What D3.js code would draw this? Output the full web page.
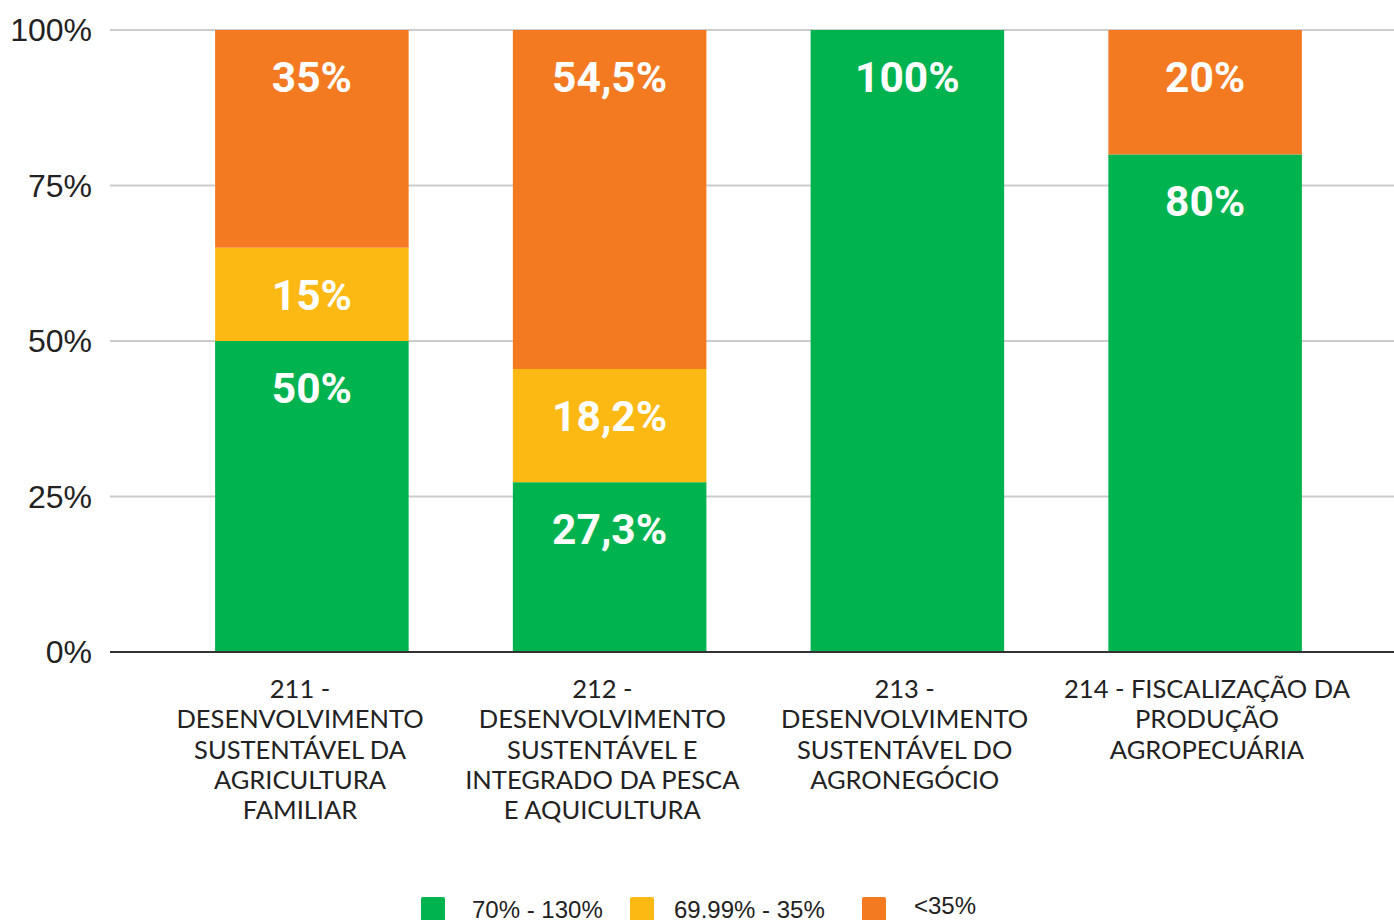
<!DOCTYPE html>
<html>
<head>
<meta charset="utf-8">
<script src="https://cdn.jsdelivr.net/npm/d3@7"></script>
<style>
  body { margin: 0; background: #fff; }
  svg { display: block; }
</style>
</head>
<body>
<div id="chart"></div>
<script>
// categories (wrapped as in the original)
const categories = ["211", "212", "213", "214"];
const categoryLines = [
  ["211 -", "DESENVOLVIMENTO", "SUSTENTÁVEL DA", "AGRICULTURA", "FAMILIAR"],
  ["212 -", "DESENVOLVIMENTO", "SUSTENTÁVEL E", "INTEGRADO DA PESCA", "E AQUICULTURA"],
  ["213 -", "DESENVOLVIMENTO", "SUSTENTÁVEL DO", "AGRONEGÓCIO"],
  ["214 - FISCALIZAÇÃO DA", "PRODUÇÃO", "AGROPECUÁRIA"]
];
const legendLabels = ["70% - 130%", "69.99% - 35%", "<35%"];
const greenValues = [50, 27.3, 100, 80];
const yellowValues = [15, 18.2, 0, 0];
const orangeValues = [35, 54.5, 0, 20];
const yTicks = [0, 25, 50, 75, 100];

const colors = ["#00B34F", "#FDB913", "#F47A22"];

const W = 1394, H = 920;
const plotTop = 30, plotBottom = 652;

const rows = categories.map((c, i) => ({
  cat: c, g: greenValues[i], y: yellowValues[i], o: orangeValues[i]
}));
const stack = d3.stack().keys(["g", "y", "o"])(rows);

const x = d3.scaleBand().domain(categories).range([163, 1354]).paddingInner(0.35).paddingOuter(0.175);
// the wrapped category labels sit on a slightly wider spacing than the bars
const xLabel = d3.scalePoint().domain(categories).range([300, 1207]);
const yScale = d3.scaleLinear().domain([0, 100]).range([plotBottom, plotTop]);

const svg = d3.select("#chart").append("svg").attr("width", W).attr("height", H);

// grid
svg.append("g").selectAll("line").data(yTicks.filter(d => d > 0)).enter().append("line")
  .attr("x1", 110).attr("x2", W)
  .attr("y1", d => yScale(d)).attr("y2", d => yScale(d))
  .attr("stroke", "#cccccc").attr("stroke-width", 2);

// y labels
svg.append("g").selectAll("text").data(yTicks).enter().append("text")
  .attr("x", 92).attr("y", d => yScale(d))
  .attr("dy", "0.35em").attr("text-anchor", "end")
  .attr("font-family", "Liberation Sans, Arial, sans-serif")
  .attr("font-size", 32).attr("fill", "#222")
  .text(d => d + "%");

// bars
const layers = svg.append("g").selectAll("g").data(stack).enter().append("g")
  .attr("fill", (d, i) => colors[i]);
layers.selectAll("rect").data(d => d).enter().append("rect")
  .attr("x", d => x(d.data.cat))
  .attr("width", x.bandwidth())
  .attr("y", d => yScale(d[1]))
  .attr("height", d => yScale(d[0]) - yScale(d[1]));

// value labels
const fmt = v => String(+v.toFixed(1)).replace(".", ",") + "%";
stack.forEach(layer => {
  svg.append("g").selectAll("text").data(layer.filter(d => d[1] - d[0] > 0)).enter().append("text")
    .attr("x", d => x(d.data.cat) + x.bandwidth() / 2)
    .attr("y", d => yScale(d[1]) + 47)
    .attr("dy", "0.35em")
    .attr("text-anchor", "middle")
    .attr("font-family", "Roboto, sans-serif")
    .attr("font-weight", "bold")
    .attr("font-size", 42.5)
    .attr("fill", "#fff")
    .text(d => fmt(d[1] - d[0]));
});

// baseline
svg.append("line").attr("x1", 110).attr("x2", W)
  .attr("y1", yScale(0)).attr("y2", yScale(0))
  .attr("stroke", "#333").attr("stroke-width", 2);

// category labels
const xAxis = svg.append("g");
categories.forEach((c, i) => {
  const cx = xLabel(c);
  const t = xAxis.append("text")
    .attr("x", cx)
    .attr("y", 698)
    .attr("text-anchor", "middle")
    .attr("font-family", "Lato, sans-serif")
    .attr("font-size", 25.5)
    .attr("fill", "#222");
  categoryLines[i].forEach((line, k) => {
    t.append("tspan").attr("x", cx).attr("dy", k === 0 ? 0 : 30.3).text(line);
  });
});

// legend
const legendX = [421, 630, 862];
const legend = svg.append("g");
legendLabels.forEach((l, i) => {
  legend.append("rect").attr("x", legendX[i]).attr("y", 897).attr("width", 24).attr("height", 30)
    .attr("rx", 2).attr("fill", colors[i]);
  legend.append("text").attr("x", legendX[i] + (i === 2 ? 52 : i === 1 ? 44 : 51))
    .attr("y", i === 2 ? 914 : 918)
    .attr("font-family", "Liberation Sans, Arial, sans-serif")
    .attr("font-size", 24).attr("fill", "#222").text(l);
});
</script>
</body>
</html>
